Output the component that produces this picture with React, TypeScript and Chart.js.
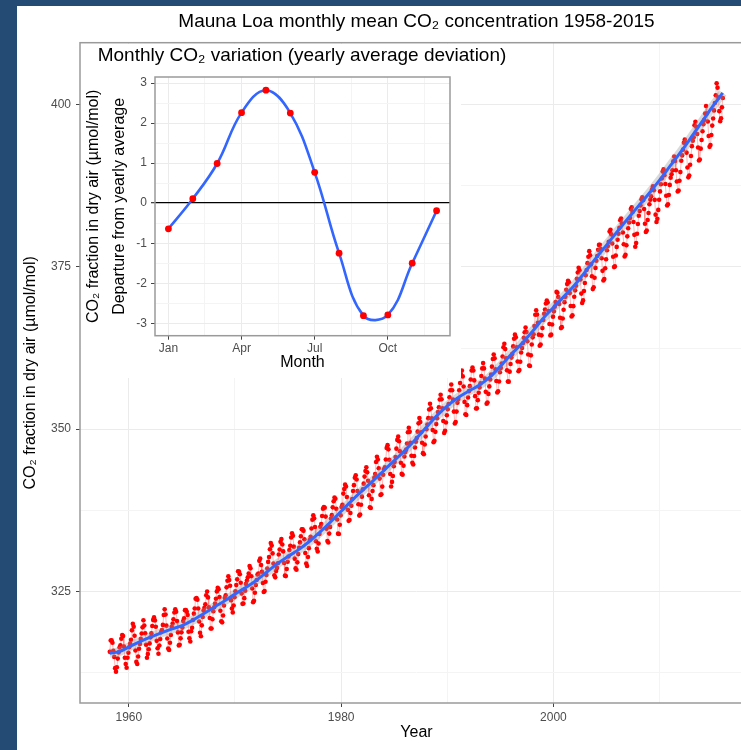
import React, { useEffect, useRef } from "react";
import { Chart, registerables } from "chart.js";

Chart.register(...registerables);

const FONT = '"Liberation Sans", Arial, Helvetica, sans-serif';

// ---------- main chart data ----------
const firstYear = 1958;

const co2_1950s: (number | null)[][] = [
  [null, null, 315.71, 317.45, 317.5, 317.1, 315.86, 314.93, 313.2, 312.66, 313.33, 314.67],
  [315.62, 316.38, 316.71, 317.72, 318.29, 318.15, 316.54, 314.8, 313.84, 313.26, 314.8, 315.58],
];
const co2_1960s: number[][] = [
  [316.43, 316.97, 317.58, 319.02, 320.03, 319.59, 318.18, 315.91, 314.16, 313.83, 315.0, 316.19],
  [316.93, 317.7, 318.54, 319.48, 320.58, 319.77, 318.57, 316.79, 314.8, 315.38, 316.1, 317.01],
  [317.94, 318.56, 319.68, 320.63, 321.01, 320.55, 319.58, 317.4, 316.26, 315.42, 316.69, 317.69],
  [318.74, 319.08, 319.86, 321.39, 322.25, 321.47, 319.74, 317.77, 316.21, 315.99, 317.12, 318.31],
  [319.57, 320.07, 320.73, 321.77, 322.25, 321.89, 320.44, 318.7, 316.7, 316.79, 317.79, 318.71],
  [319.44, 320.44, 320.89, 322.13, 322.16, 321.87, 321.39, 318.81, 317.81, 317.3, 318.87, 319.42],
  [320.62, 321.59, 322.39, 323.87, 324.01, 323.75, 322.39, 320.37, 318.64, 318.1, 319.79, 321.08],
  [322.07, 322.5, 323.04, 324.42, 325.0, 324.09, 322.55, 320.92, 319.31, 319.31, 320.72, 321.96],
  [322.57, 323.15, 323.89, 325.02, 325.57, 325.36, 324.14, 322.03, 320.41, 320.25, 321.31, 322.84],
  [324.0, 324.42, 325.64, 326.66, 327.34, 326.76, 325.88, 323.67, 322.38, 321.78, 322.85, 324.11],
];
const co2_1970s: number[][] = [
  [325.03, 325.99, 326.87, 328.13, 328.07, 327.66, 326.35, 324.69, 323.1, 323.16, 323.98, 325.13],
  [326.17, 326.68, 327.18, 327.78, 328.92, 328.57, 327.34, 325.46, 323.36, 323.57, 324.8, 326.01],
  [326.77, 327.63, 327.75, 329.72, 330.07, 329.09, 328.05, 326.32, 324.93, 325.06, 326.5, 327.55],
  [328.54, 329.56, 330.3, 331.5, 332.48, 332.07, 330.87, 329.31, 327.51, 327.18, 328.16, 328.64],
  [329.35, 330.71, 331.48, 332.65, 333.09, 332.25, 331.18, 329.4, 327.44, 327.37, 328.46, 329.58],
  [330.4, 331.4, 332.04, 333.31, 333.96, 333.59, 331.91, 330.06, 328.56, 328.34, 329.49, 330.76],
  [331.75, 332.56, 333.5, 334.58, 334.57, 334.34, 333.05, 330.94, 329.3, 328.94, 330.31, 331.68],
  [332.93, 333.42, 334.7, 336.07, 336.74, 336.27, 334.93, 332.75, 331.58, 331.16, 332.4, 333.85],
  [334.97, 335.39, 336.64, 337.76, 338.01, 337.89, 336.54, 334.68, 332.76, 332.54, 333.92, 334.95],
  [336.23, 336.76, 337.96, 338.89, 339.47, 339.29, 337.73, 336.09, 333.91, 333.86, 335.29, 336.73],
];
const co2_1980s: number[][] = [
  [338.01, 338.36, 340.08, 340.77, 341.46, 341.17, 339.56, 337.6, 335.88, 336.01, 337.1, 338.21],
  [339.23, 340.47, 341.38, 342.51, 342.91, 342.25, 340.49, 338.43, 336.69, 336.85, 338.36, 339.61],
  [340.75, 341.61, 342.7, 343.56, 344.13, 343.35, 342.06, 339.82, 337.97, 337.86, 339.26, 340.49],
  [341.38, 342.52, 343.1, 344.94, 345.75, 345.32, 343.99, 342.39, 339.86, 339.99, 341.16, 342.99],
  [343.81, 344.11, 345.34, 347.12, 347.54, 346.89, 345.29, 343.09, 341.18, 341.88, 342.8, 344.28],
  [344.95, 345.7, 347.0, 348.35, 348.85, 348.15, 346.59, 344.84, 343.11, 342.99, 344.38, 345.8],
  [346.47, 346.85, 347.79, 349.53, 350.21, 349.59, 347.89, 345.91, 344.83, 344.56, 345.88, 347.19],
  [348.07, 348.63, 349.62, 350.9, 351.71, 351.1, 349.52, 347.9, 346.31, 346.14, 347.65, 348.87],
  [349.98, 350.73, 351.7, 353.02, 353.91, 353.21, 351.67, 349.86, 348.0, 348.22, 349.59, 350.78],
  [351.68, 352.63, 353.37, 354.58, 355.31, 354.61, 353.22, 351.25, 349.43, 349.74, 351.02, 352.14],
];
const co2_1990s: number[][] = [
  [353.06, 353.88, 354.91, 355.99, 356.88, 355.99, 354.55, 352.71, 350.87, 351.09, 352.71, 354.07],
  [354.63, 356.0, 357.11, 358.43, 359.02, 358.13, 356.57, 354.2, 352.29, 352.19, 353.7, 354.88],
  [355.86, 356.63, 357.66, 359.03, 359.49, 359.03, 357.51, 355.09, 353.19, 353.21, 354.47, 355.62],
  [356.43, 357.05, 358.18, 359.36, 360.2, 359.36, 357.81, 355.75, 353.93, 354.11, 355.43, 356.59],
  [357.66, 358.4, 359.63, 360.8, 361.49, 360.91, 359.21, 357.41, 355.64, 355.85, 357.34, 358.77],
  [359.44, 360.12, 361.19, 362.62, 363.15, 362.33, 360.92, 359.06, 357.34, 357.32, 358.86, 360.04],
  [361.02, 361.59, 362.75, 363.92, 364.56, 364.14, 362.61, 360.43, 358.91, 359.11, 360.39, 361.82],
  [362.51, 363.23, 364.07, 364.92, 365.64, 364.96, 363.54, 361.5, 359.81, 359.72, 361.37, 363.04],
  [364.14, 364.62, 365.88, 367.63, 368.32, 367.66, 366.4, 364.56, 362.86, 363.04, 364.45, 365.57],
  [366.81, 367.77, 368.44, 369.36, 369.81, 369.5, 368.2, 366.19, 364.44, 364.56, 366.12, 367.33],
];
const co2_2000s: number[][] = [
  [368.15, 368.87, 369.59, 371.14, 371.0, 370.35, 369.27, 367.16, 365.57, 365.71, 367.04, 368.4],
  [369.56, 370.38, 371.48, 372.34, 372.86, 372.61, 370.96, 368.98, 367.35, 367.54, 368.95, 370.39],
  [371.38, 372.09, 373.17, 374.12, 374.86, 374.46, 373.06, 370.88, 369.44, 369.83, 371.29, 372.51],
  [373.71, 374.51, 375.57, 376.56, 377.42, 376.79, 375.39, 373.55, 371.57, 371.86, 373.33, 374.84],
  [375.93, 376.68, 377.62, 378.38, 378.41, 377.76, 376.33, 374.38, 372.9, 373.11, 374.79, 376.17],
  [377.55, 378.2, 378.87, 380.43, 380.72, 380.0, 378.59, 376.56, 374.96, 375.07, 376.75, 378.07],
  [379.18, 380.1, 381.0, 382.18, 382.43, 381.68, 380.29, 378.47, 376.59, 376.86, 378.33, 379.7],
  [380.94, 381.84, 382.52, 383.9, 384.17, 383.46, 381.9, 379.93, 378.1, 378.66, 380.1, 381.6],
  [382.86, 383.6, 384.46, 385.4, 385.7, 385.26, 383.9, 381.63, 380.37, 380.58, 382.21, 383.3],
  [384.64, 385.35, 385.86, 386.94, 387.42, 386.81, 385.32, 383.04, 381.91, 382.39, 383.77, 385.34],
];
const co2_2010s: number[][] = [
  [386.62, 387.73, 388.61, 389.68, 390.01, 389.12, 387.77, 385.94, 384.45, 384.65, 386.07, 387.62],
  [388.72, 389.25, 389.86, 391.27, 391.98, 391.29, 389.87, 388.14, 386.62, 386.75, 388.26, 389.59],
  [391.34, 392.16, 393.05, 394.13, 394.6, 394.11, 392.59, 390.31, 388.78, 389.06, 390.73, 392.06],
  [393.59, 394.41, 394.96, 396.81, 397.34, 396.58, 395.46, 393.37, 391.37, 391.54, 393.2, 394.54],
  [395.88, 396.98, 397.64, 398.6, 399.76, 398.6, 397.38, 395.16, 393.48, 393.76, 395.31, 396.75],
  [397.85, 399.09, 400.24, 401.42, 403.26, 402.6, 401.06, 398.98, 397.44, 397.88, 399.56, 401.01],
];

// smoothed trend (blue line)
const trendX = [
  1958.2, 1959.0, 1960.0, 1961.0, 1962.0, 1963.0, 1964.0, 1965.0, 1966.0, 1967.0, 1968.0, 1969.0,
  1970.0, 1971.0, 1972.0, 1973.0, 1974.0, 1975.0, 1976.0, 1977.0, 1978.0, 1979.0, 1980.0, 1981.0,
  1982.0, 1983.0, 1984.0, 1985.0, 1986.0, 1987.0, 1988.0, 1989.0, 1990.0, 1991.0, 1992.0, 1993.0,
  1994.0, 1995.0, 1996.0, 1997.0, 1998.0, 1999.0, 2000.0, 2001.0, 2002.0, 2003.0, 2004.0, 2005.0,
  2006.0, 2007.0, 2008.0, 2009.0, 2010.0, 2011.0, 2012.0, 2013.0, 2014.0, 2015.0, 2015.95,
];
const trendY = [
  315.5, 315.7, 316.45, 317.25, 317.95, 318.6, 319.2, 319.75, 320.55, 321.55, 322.55, 323.55,
  324.6, 325.6, 326.7, 328.0, 329.3, 330.4, 331.45, 332.7, 334.15, 335.7, 337.35, 339.0,
  340.55, 342.05, 343.6, 345.15, 346.7, 348.4, 350.25, 352.05, 353.6, 354.85, 355.85, 356.75,
  358.0, 359.7, 361.5, 363.15, 365.0, 367.0, 368.75, 370.45, 372.2, 374.25, 376.35, 378.35,
  380.4, 382.4, 384.35, 386.3, 388.35, 390.55, 392.7, 395.0, 397.35, 399.7, 401.8,
];

const xGridYears = [1960, 1970, 1980, 1990, 2000, 2010];
const xLabelYears = [1960, 1980, 2000];
const yGridValues = [312.5, 325, 337.5, 350, 362.5, 375, 387.5, 400];
const yLabelValues = [325, 350, 375, 400];

// ---------- inset data ----------
const monthNumbers = [1, 2, 3, 4, 5, 6, 7, 8, 9, 10, 11, 12];
const monthNames = ["Jan", "Feb", "Mar", "Apr", "May", "Jun", "Jul", "Aug", "Sep", "Oct", "Nov", "Dec"];
const seasonalDeviation = [-0.64, 0.11, 0.99, 2.26, 2.82, 2.25, 0.77, -1.25, -2.81, -2.79, -1.5, -0.19];
const insetXGrid = [1, 2.5, 4, 5.5, 7, 8.5, 10, 11.5];
const insetXLabels = [1, 4, 7, 10];
const insetYGrid = [-3, -2.5, -2, -1.5, -1, -0.5, 0, 0.5, 1, 1.5, 2, 2.5, 3];
const insetYLabels = [-3, -2, -1, 0, 1, 2, 3];

const panelBorder = {
  id: "panelBorder",
  afterDatasetsDraw(chart: any, _args: any, opts: any) {
    const { ctx, chartArea: a } = chart;
    ctx.save();
    ctx.strokeStyle = opts.color || "#999";
    ctx.lineWidth = opts.width || 1;
    ctx.strokeRect(a.left, a.top, a.right - a.left, a.bottom - a.top);
    ctx.restore();
  },
};

const insetBackground = {
  id: "insetBackground",
  beforeDraw(chart: any, _args: any, opts: any) {
    const { ctx } = chart;
    ctx.save();
    ctx.fillStyle = "#ffffff";
    ctx.fillRect(opts.x, opts.y, opts.w, opts.h);
    ctx.restore();
  },
};

const MAJOR_GRID = "#ebebeb";
const MINOR_GRID = "#f4f4f4";
const TICK_MARK = "#444444";
const TICK_TEXT = "#4d4d4d";

export default function App() {
  const mainRef = useRef<HTMLCanvasElement>(null);
  const insetRef = useRef<HTMLCanvasElement>(null);

  useEffect(() => {
    const rows = [...co2_1950s, ...co2_1960s, ...co2_1970s, ...co2_1980s, ...co2_1990s, ...co2_2000s, ...co2_2010s];
    const monthly: { x: number; y: number }[] = [];
    rows.forEach((row, i) => {
      row.forEach((v, m) => {
        if (v != null) monthly.push({ x: firstYear + i + (m + 0.5) / 12, y: v });
      });
    });
    const trend = trendX.map((x, i) => ({ x, y: trendY[i] }));

    const main = new Chart(mainRef.current!, {
      type: "line",
      data: {
        datasets: [
          {
            data: trend,
            borderColor: "#3366ff",
            borderWidth: 3,
            tension: 0.4,
            pointRadius: 0,
            fill: false,
          },
          {
            data: trend,
            borderColor: "rgba(150,150,150,0.35)",
            borderWidth: 9,
            tension: 0.4,
            pointRadius: 0,
            fill: false,
          },
          {
            data: monthly,
            borderColor: "rgba(255,0,0,0.28)",
            borderWidth: 1,
            tension: 0,
            pointRadius: 2.3,
            pointBackgroundColor: "#ff0000",
            pointBorderWidth: 0,
            fill: false,
          },
        ],
      },
      options: {
        animation: false,
        responsive: false,
        events: [],
        layout: { padding: { left: 0, right: 7, top: 0, bottom: 0 } },
        plugins: {
          legend: { display: false },
          tooltip: { enabled: false },
          title: {
            display: true,
            text: "Mauna Loa monthly mean CO\u2082 concentration 1958-2015",
            color: "#000",
            fullSize: false,
            align: "center",
            font: { family: FONT, size: 19, weight: "normal" },
            padding: { top: 4.6, bottom: 9.3 },
          },
          panelBorder: { color: "#9a9a9a", width: 1.5 },
        } as any,
        scales: {
          x: {
            type: "linear",
            min: 1955.4,
            max: 2018.8,
            afterBuildTicks: (s: any) => {
              s.ticks = xGridYears.map((v) => ({ value: v }));
            },
            afterFit: (s: any) => {
              s.height = 47;
            },
            ticks: {
              autoSkip: false,
              maxRotation: 0,
              padding: 3,
              color: TICK_TEXT,
              font: { family: FONT, size: 12 },
              callback: (v: any) => (xLabelYears.includes(v) ? String(v) : ""),
            },
            grid: {
              color: (c: any) => (xLabelYears.includes(c.tick?.value) ? MAJOR_GRID : MINOR_GRID),
              tickColor: (c: any) => (xLabelYears.includes(c.tick?.value) ? TICK_MARK : "rgba(0,0,0,0)"),
              tickLength: 4,
              lineWidth: 1,
            },
            border: { display: false },
            title: {
              display: true,
              text: "Year",
              color: "#000",
              font: { family: FONT, size: 16 },
              padding: { top: 0, bottom: 7.4 },
            },
          },
          y: {
            type: "linear",
            min: 307.83,
            max: 409.52,
            afterBuildTicks: (s: any) => {
              s.ticks = yGridValues.map((v) => ({ value: v }));
            },
            afterFit: (s: any) => {
              s.width = 63;
            },
            ticks: {
              autoSkip: false,
              padding: 5,
              color: TICK_TEXT,
              font: { family: FONT, size: 12 },
              callback: (v: any) => (yLabelValues.includes(v) ? String(v) : ""),
            },
            grid: {
              color: (c: any) => (yLabelValues.includes(c.tick?.value) ? MAJOR_GRID : MINOR_GRID),
              tickColor: (c: any) => (yLabelValues.includes(c.tick?.value) ? TICK_MARK : "rgba(0,0,0,0)"),
              tickLength: 4,
              lineWidth: 1,
            },
            border: { display: false },
            title: {
              display: true,
              text: "CO\u2082 fraction in dry air (\u00b5mol/mol)",
              color: "#000",
              font: { family: FONT, size: 16 },
              padding: { top: 4.4, bottom: 0 },
            },
          },
        },
      } as any,
      plugins: [panelBorder],
    });

    const insetPoints = monthNumbers.map((m, i) => ({ x: m, y: seasonalDeviation[i] }));

    const inset = new Chart(insetRef.current!, {
      type: "line",
      data: {
        datasets: [
          {
            data: insetPoints,
            borderColor: "#3366ff",
            borderWidth: 2.6,
            tension: 0.4,
            pointRadius: 3.4,
            pointBackgroundColor: "#ff0000",
            pointBorderWidth: 0,
            fill: false,
          },
        ],
      },
      options: {
        animation: false,
        responsive: false,
        events: [],
        layout: { padding: 0 },
        plugins: {
          legend: { display: false },
          tooltip: { enabled: false },
          title: {
            display: true,
            text: "Monthly CO\u2082 variation (yearly average deviation)",
            color: "#000",
            fullSize: true,
            align: "center",
            font: { family: FONT, size: 19, weight: "normal" },
            padding: { top: 0, bottom: 10.2 },
          },
          insetBackground: { x: 1, y: 0, w: 380, h: 334 },
          panelBorder: { color: "#9a9a9a", width: 1.5 },
        } as any,
        scales: {
          x: {
            type: "linear",
            min: 0.45,
            max: 12.55,
            afterBuildTicks: (s: any) => {
              s.ticks = insetXGrid.map((v) => ({ value: v }));
            },
            afterFit: (s: any) => {
              s.height = 42.3;
            },
            ticks: {
              autoSkip: false,
              maxRotation: 0,
              padding: 2,
              color: TICK_TEXT,
              font: { family: FONT, size: 12 },
              callback: (v: any) => (insetXLabels.includes(v) ? monthNames[v - 1] : ""),
            },
            grid: {
              color: (c: any) => (insetXLabels.includes(c.tick?.value) ? MAJOR_GRID : MINOR_GRID),
              tickColor: (c: any) => (insetXLabels.includes(c.tick?.value) ? TICK_MARK : "rgba(0,0,0,0)"),
              tickLength: 4,
              lineWidth: 1,
            },
            border: { display: false },
            title: {
              display: true,
              text: "Month",
              color: "#000",
              font: { family: FONT, size: 16 },
              padding: { top: 0, bottom: 5.4 },
            },
          },
          y: {
            type: "linear",
            min: -3.31,
            max: 3.15,
            afterBuildTicks: (s: any) => {
              s.ticks = insetYGrid.map((v) => ({ value: v }));
            },
            afterFit: (s: any) => {
              s.width = 75;
            },
            ticks: {
              autoSkip: false,
              padding: 4,
              color: TICK_TEXT,
              font: { family: FONT, size: 12 },
              callback: (v: any) => (insetYLabels.includes(v) ? String(v) : ""),
            },
            grid: {
              color: (c: any) =>
                c.tick?.value === 0 ? "#000000" : insetYLabels.includes(c.tick?.value) ? MAJOR_GRID : MINOR_GRID,
              lineWidth: (c: any) => (c.tick?.value === 0 ? 1.3 : 1),
              tickColor: (c: any) => (insetYLabels.includes(c.tick?.value) ? TICK_MARK : "rgba(0,0,0,0)"),
              tickLength: 4,
            },
            border: { display: false },
            title: {
              display: true,
              text: ["CO\u2082 fraction in dry air (\u00b5mol/mol)", "Departure from yearly average"],
              color: "#000",
              font: { family: FONT, size: 16, lineHeight: "26px" },
              padding: { top: 0.3, bottom: 0 },
            },
          },
          yPad: {
            type: "linear",
            position: "right",
            display: true,
            afterFit: (s: any) => {
              s.width = 74;
            },
            ticks: { display: false },
            grid: { display: false, drawTicks: false },
            border: { display: false },
          },
        },
      } as any,
      plugins: [insetBackground, panelBorder],
    });

    return () => {
      main.destroy();
      inset.destroy();
    };
  }, []);

  return (
    <div
      style={{
        position: "absolute",
        left: 0,
        top: 0,
        width: 741,
        height: 750,
        overflow: "hidden",
        background: "#234b74",
      }}
    >
      <div
        style={{
          position: "absolute",
          left: 17,
          top: 6,
          width: 743,
          height: 744,
          background: "#ffffff",
        }}
      >
        <canvas ref={mainRef} width={743} height={744} style={{ position: "absolute", left: 0, top: 0 }} />
      </div>
      <canvas ref={insetRef} width={444} height={334} style={{ position: "absolute", left: 80, top: 44 }} />
    </div>
  );
}
